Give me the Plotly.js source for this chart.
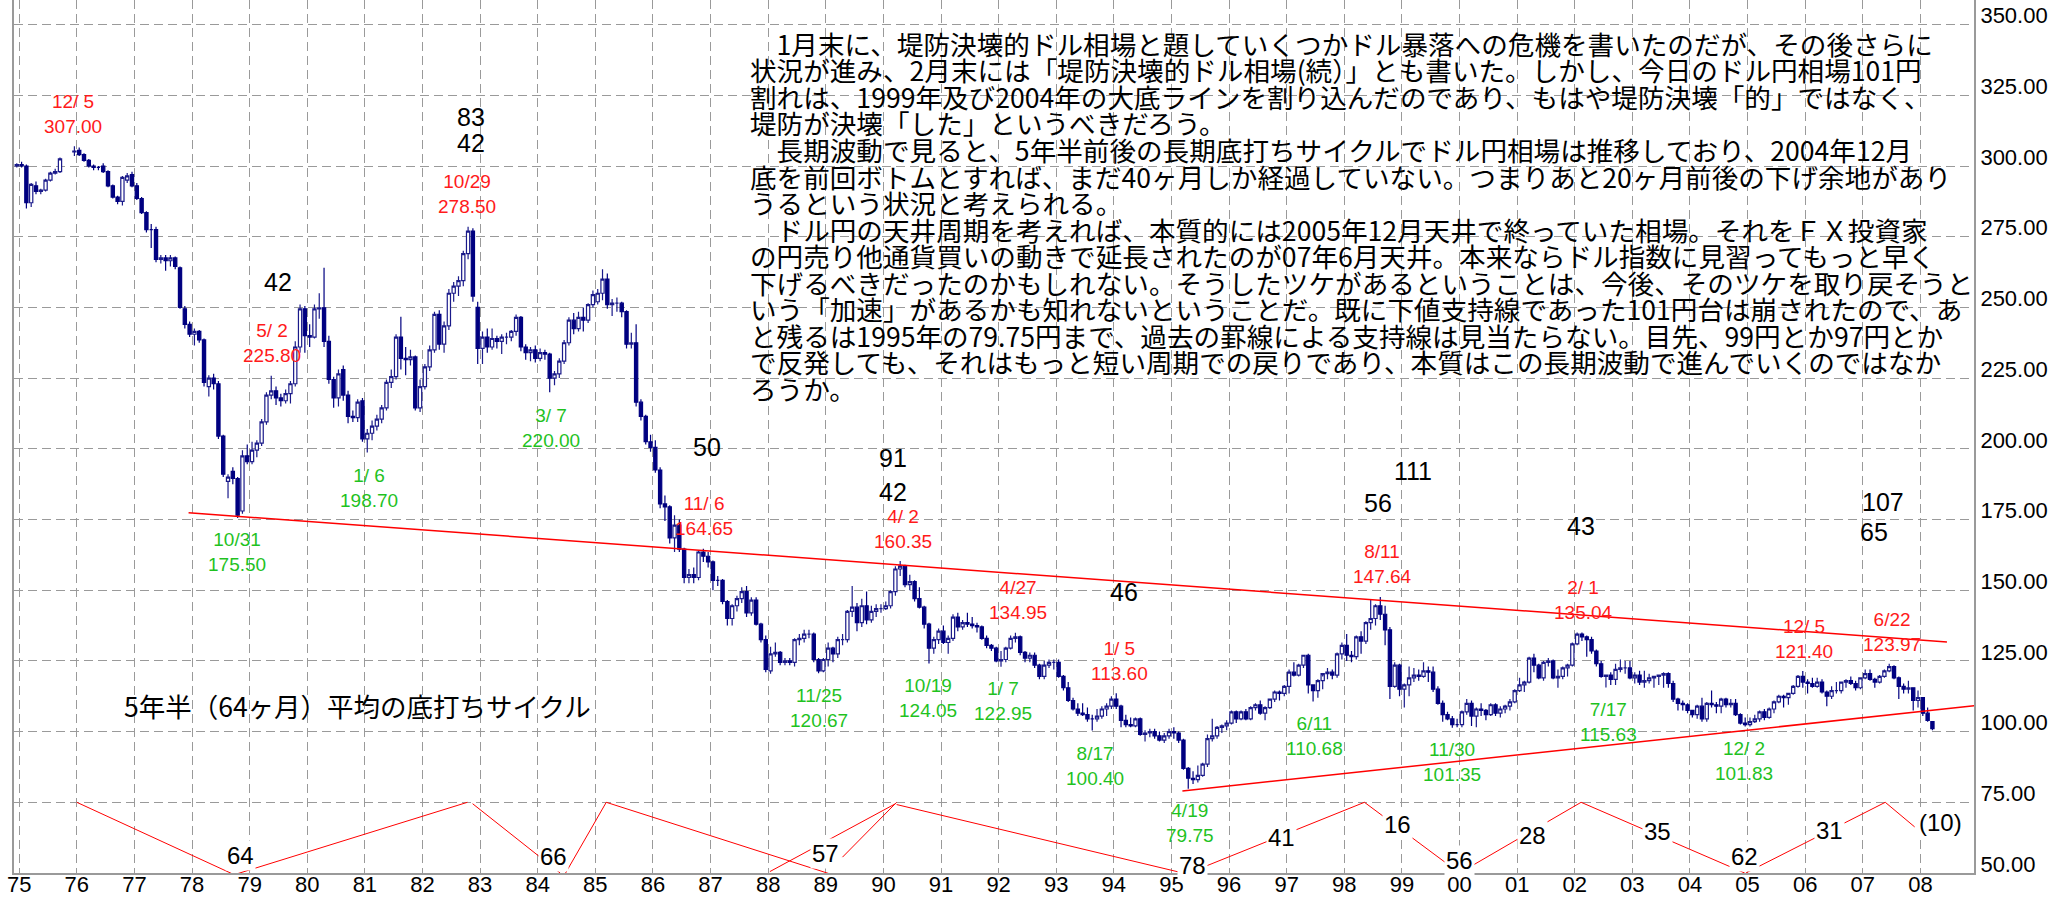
<!DOCTYPE html>
<html><head><meta charset="utf-8">
<script src="https://cdn.plot.ly/plotly-3.0.1.min.js"></script>
<style>html,body{margin:0;padding:0;background:#fff;}#chart{width:2072px;height:900px;}</style>
</head><body><div id="chart"></div>
<script>
// ---------- DATA ----------
// Monthly USD/JPY candles, first candle = Dec 1974
const START_YEAR = 1974, START_MONTH = 12;
const OPEN = [
300,
300.5,300,287,293,291,291.5,295,297.5,298,null,null,305,
305.5,304,302,300,299.5,300,298,293,289,287.5,295,297,
293,288.5,283.5,277.5,277.5,267,267.5,266.5,267.5,264,249.5,244,
240.5,241.5,238.5,222,225,223,204.5,188.5,192,189.5,178,197.5,
195.5,199.5,202,209.5,219,220.5,218,217,219.5,223,236,249.5,
240,239.5,249.5,249.8,238,224.5,218,228,219,211.5,211,217,
203.5,205.5,208,210.5,214.5,223.5,225.5,239.5,232,231.5,232.5,214.5,
222,229,235,247.5,237,243.5,255,257.5,259.5,269,277,250,
235.5,239.5,236,239,238,239.5,239.5,241.5,246.5,236,234,235,
232,234,233.5,225,226.5,231,237.5,245.5,242.5,246.5,245.5,251,
252,255,260,251,251.5,251.5,248.5,237,237.5,216.5,211.5,202.5,
200.5,192.5,180.5,179.5,168.5,173,164.5,154.5,155.5,154.5,163.5,162,
160,153.5,153.5,146,140,144.5,147,149.5,142,146.5,138,132.5,
121.5,127.5,128,124.5,125,124.5,132.5,133,134.5,134.5,125.5,121.5,
125.5,129.5,127.5,132.5,132.5,142.5,144,138.5,144.5,139.5,142.5,143.5,
143.5,144.5,149.5,157.5,158.5,152,153,147,144,138,129.5,132.5,
135.5,131.5,133,140.5,137,138.5,138,137.5,137,133,130.5,129.5,
125,125.5,129.5,133,133.5,128,126,127,123.5,119.5,123.5,124.5,
124.5,119.5,115.5,111,108,106.5,106,104.5,104.5,105.5,108,109,
111.5,109,104,102.5,102,104.5,99,99.5,100,98.5,97,98.5,
100,99.5,97,87,83.5,83,84.5,88.5,97.5,98.5,101.5,102,
103,107,104.5,107,104.5,108.5,109.5,106.5,108.5,111.5,114,113.5,
116,121,120,123.5,127,116.5,114.5,118,120.5,121,120,127.5,
130.5,127,126.5,133.5,132,138.5,140,144.5,141.5,136,116,123.5,
115,116.5,119,120,119.5,121.5,121,115,110,106,104.5,102.5,
102.5,107,110,105.5,108,107.5,106,109.5,106.5,108,109,110.5,
114.5,116.5,117.5,126,123.5,119,124.5,125,119,119.5,122.5,123.5,
131,134.5,133.5,132.5,128.5,124,119.5,120,118.5,122,122.5,122.5,
119,120,117.5,118,119,119.5,120,120.5,117,111.5,110,109.5,
107.5,106,109,104.5,110,109.5,109,111.5,109.5,110,106,103,
102.5,103.5,104.5,107,105,108,110.5,112.5,112,113.5,116,119.5,
117.5,117,116,117.5,114,112.5,114.5,114.5,117.5,118,117,115.5,
119,120.5,118.5,117.5,119.5,121.5,123,119,116,115,115.5,111,
112,106.5,103.5];
const HIGH = [
301,
301.5,300.5,294,294.5,292,295.5,298,299,303,null,null,307,
306.5,304.5,302.5,300.5,300,301,298.5,293.5,289.5,296.5,297.5,298,
294,289,284,279.5,278.5,268.5,268.5,268.5,268,264.5,250.5,245,
242.5,242,239,226,226.5,224,205,191,193.5,190,199.5,201.5,
202.5,203,210.5,220,225.8,222,219.5,221,224,238,251,250.5,
244,251,255,264,240,225.5,228,229.5,220.5,213.5,217.5,218,
207,210,212,215.5,224.5,228,240.5,246.7,236,235,233,224.5,
230,236.5,248.5,249,245,256.5,259,261,270,278.5,278,252,
241.5,242.5,242.5,240,240.5,241,242,247.5,247,237,236,236.5,
235.5,235,234,227.5,232,238.5,246.5,248,248.5,250,251.5,256,
256.5,263.5,262,253,253.5,252,249,241,244,217.5,212,205,
203,193.5,183.5,180,176.5,175,165,157.5,158,164,164.65,163.5,
160.5,155,154,146.5,145,148,151,151.5,147.5,147.5,138.5,134,
130,131.5,128.5,126,126,133,134.5,136,136,135,126,126,
131.5,130,133.5,134.5,143,151.5,145.5,147,149.5,144.5,145,145,
146,150,158.5,160.35,159,155.5,153.5,151,144.5,138.5,133.5,136.5,
137.5,134,141.5,142,139.5,142,140.5,138.5,137.5,134,131,130,
128.5,130,134,134.95,134,128.5,128,128,124,125,125.5,125.5,
125.5,120,117.5,112,110,110,108.5,106,108,109,110,112.5,
113.6,109.5,106,105,105,105,100.5,101,101,100,99.5,101,
101.5,100,97.5,87.5,86,88,89,99,104.5,102,102.5,104,
107.5,107.5,107.5,108,109,110,111,109,111.5,114.5,114.5,116.5,
122,124.5,124,127,127.5,116.5,118.5,119.5,122.5,122,128,131.5,
134.5,128.5,134,135.5,139,146.5,145,147.64,144.5,137,124.5,124,
117,123,122.5,122,124.5,123,123,116,111,107,105.5,104.5,
107.5,111.5,111,108.5,110,108,110,110,109,109.5,111.5,115,
119,118,126.5,127.5,124,125,126,125.5,122,123,124,131.5,
135,135.04,134,133.5,129,125,120,121,124,125.5,125,125,
121,121.5,121.5,120.5,119.5,120,121,121,118,112,111,110,
107.5,109.5,112,110.5,114.5,110.5,112,112,111.5,111.5,106.5,105,
105,106,107.5,108,108.5,111,113,113,113.5,116.5,120,121.4,
118.5,119,119,118.5,114.5,116,117.5,117.5,118.5,119.5,118,119,
122,122,119,120,122,123.97,123.5,119.5,117,118,115.5,114.5,
112,108.5,103.5];
const LOW = [
299.5,
299.5,285,285.5,290,290,291,294.5,297,297.5,null,null,303.5,
303.5,301.5,299.5,298.5,298.5,297.5,292.5,288.5,286.5,286,294,292.5,
288,283,276.5,271,266,265.5,263,264.5,263.5,249.5,242.5,239.5,
236.5,237.5,222,218.5,221,203.5,190,182.5,187.5,175.5,177,194.5,
194.5,197,201,208.5,217.5,215.5,215,216,216,222,234,234,
236,239,246,236,223,214.5,215,217,209,209.5,209.5,202.5,
198.7,203,206.5,209,213.5,221.5,224.5,228,226,229.5,213.5,213,
221,227.5,234,235,234,242,252,254,257.5,267,252,230,
230,234,235,235.5,233.5,237,238,240,234.5,231.5,231,230.5,
231,231.5,220,222.5,225,230,236.5,240.5,241.5,241.5,244.5,250,
251,252.5,249.5,247,248.5,246.5,235.5,235.5,215,210,201.5,199,
191.5,179,174.5,166.5,163.5,163.5,152.5,152.5,152.5,153.5,160,158,
150,151.5,145,137.5,137.5,142.5,145.5,140.5,141,137.5,131.5,121,
120.5,126.5,123.5,123.5,123.5,123,130.5,131.5,133,124.5,120.67,121,
123,124.5,126,130.5,131.5,140.5,135.5,137,138,138.5,140.5,142,
143,143.5,148,155,151,150,146,143.5,136.5,124.05,127.5,131,
131,127.5,132,135.5,136,137,136.5,135,132.5,129.5,128.5,124.5,
122.95,124.5,129,131.5,127,124.5,124.5,122.5,118.5,118.5,122.5,122,
119,114.5,110.5,107.5,105.5,105.5,103.5,100.4,103.5,104.5,105.5,108,
108,101.5,101.5,101.5,101.5,98.5,96.5,98,97.5,96.5,96,97.5,
97.5,96,86.5,79.75,81.5,82,84,87.5,96.5,97.5,99.5,100.5,
102.5,103,104,104,104,107.5,106,104,108,110.5,111,112.5,
113.5,119.5,119.5,122.5,113.5,110.68,112,115,118.5,118.5,119,125.5,
125,124.5,125.5,127.5,131,136,137.5,139.5,130.5,111.5,115.5,112.5,
108.5,112.5,117.5,118,119,117.5,114,109.5,103.5,104,101.35,101.5,
101.5,106,102,101.5,105.5,104,105.5,105.5,105,106.5,107.5,110,
114,114,117,121,118.5,118,123,118.5,115.5,118.5,119.5,123,
130.5,132,126.5,127.5,123,119,115.63,116.5,116.5,121,120.5,118.5,
117,116.5,115.5,117,115.5,116.5,115.5,115.5,110.5,107.5,107.5,106.5,
105,104.5,103.5,103.5,108.5,106.5,106.5,108.5,108.5,105.5,102.5,101.83,
101.8,103,103.5,104,104.5,106.5,110,108.5,109.5,113,115.5,115.5,
113.5,115.5,115.5,113.5,109,111.5,113.5,113.5,115.5,116.5,114.5,115,
118.5,118,115.5,117,119,121,118.5,111.5,113.5,113.5,107.5,108.5,
105.5,103.5,100.5];
const CLOSE = [
300.5,
300,287,293.5,291,291.5,295,297.5,298,302.5,null,null,305.3,
304,302,300,299.5,299.5,298,293,289,287.5,296,296.5,293,
288.5,283.5,277.5,277.5,267,267.5,266.5,267.5,264.5,250,244,240.5,
241.5,238.5,223.5,225,223,204.5,191,190,189.5,176.5,197.5,195.5,
199.5,202,209.5,219,220.5,218,217,219.5,223,236,249.5,240,
239.5,249.5,249.8,238,224.5,218,226.5,219,211.5,211,216.5,203.5,
205.5,208,210.5,214.5,223.5,225.5,239.5,232,231.5,232.5,214.5,222,
229,235,247.5,237,243.5,255,257.5,259.5,269,277,254,235.5,
239.5,236,239,238,239.5,239.5,241.5,246.5,236,234,235,232,
234,233.5,225,226.5,231,237.5,245.5,242.5,246.5,245.5,251,254.5,
255,260,251,251.5,251.5,248.5,237,237.5,216.5,211.5,202.5,200.5,
192.5,180.5,179.5,168.5,173,164.5,154.5,155.5,154.5,163.5,162,160,
153.5,153.5,146,140,144.5,147,149.5,142,146.5,138,132.5,122,
127.5,128,124.5,125,124.5,132.5,133,134.5,134.5,125.5,121.5,125.5,
129.5,127.5,132.5,132.5,142.5,144,138.5,144.5,139.5,142.5,143.5,143.5,
144.5,149.5,157.5,158.5,152,153,147,144,138,129.5,132.5,135.5,
131.5,133,140.5,137,138.5,138,137.5,137,133,130.5,129.5,125,
125.5,129.5,133,133.5,128,126,127,123.5,119.5,123.5,124.5,124.5,
119.5,115.5,111,108,106.5,106,104.5,104.5,105.5,108,109,111.5,
109,104,102.5,102,104.5,99,99.5,100,98.5,97,98.5,100,
99.5,97,87,83.5,83,84.5,88.5,97.5,98.5,101.5,102,103,
107,104.5,107,104.5,108.5,109.5,106.5,108.5,111.5,114,113.5,116,
121,120,123.5,127,116.5,114.5,118,120.5,121,120,127.5,130.5,
127,126.5,133.5,132,138.5,140,144.5,141.5,136,116,123.5,115,
116.5,119,120,119.5,121.5,121,115,110,106,104.5,102.5,102.5,
107,110,105.5,108,107.5,106,109.5,106.5,108,109,110.5,114.5,
116.5,117.5,126,123.5,119,124.5,125,119,119.5,122.5,123.5,131,
134.5,133.5,132.5,128.5,124,119.5,120,118.5,122,122.5,122.5,119,
120,117.5,118,119,119.5,120,120.5,117,111.5,110,109.5,107.5,
106,109,104.5,110,109.5,109,111.5,109.5,110,106,103,102.5,
103.5,104.5,107,105,108,110.5,112.5,112,113.5,116,119.5,117.5,
117,116,117.5,114,112.5,114.5,114.5,117.5,118,117,115.5,119,
120.5,118.5,117.5,119.5,121.5,123,119,116,115,115.5,111,112,
106.5,104,101];

// axis ticks
const YEARS = [];
for (let y = 1975; y <= 2008; y++) YEARS.push(y);
const YEAR_LABELS = YEARS.map(y => String(y % 100).padStart(2, '0'));
const PRICE_TICKS = [50,75,100,125,150,175,200,225,250,275,300,325,350];

// trend lines (decimal year, yen)
const TREND_TOP_X = [1977.94, 2008.46], TREND_TOP_Y = [177.4, 131.7];
const TREND_BOTTOM_X = [1995.19, 2009.28], TREND_BOTTOM_Y = [79.0, 109.9];

// 64-month bottoming-cycle zigzag (segments separated by null)
const CYCLE_X = [1976.0,1978.70,null, 1978.78,1982.78,null, 1982.87,1984.39,null, 1984.47,1985.19,null,
  1985.19,1989.10,null, 1988.03,1990.21,null, 1989.29,1990.23,null, 1990.23,1995.20,null,
  1995.30,1998.35,null, 1998.35,2000.0,null, 2000.0,2002.11,null, 2002.11,2004.95,null,
  2004.97,2007.39,null, 2007.39,2007.90];
const CYCLE_Y = [75,49.7,null, 49.7,75,null, 74.5,50,null, 49.5,75,null,
  75,49.5,null, 50.5,74.5,null, 55.6,75,null, 74.2,50,null,
  50,75,null, 75,50,null, 50,75,null, 75,50,null,
  50,75,null, 75,66.3];

// peak / trough labels
const HIGH_LABELS = ['12/ 5<br>307.00','10/29<br>278.50','5/ 2<br>225.80','11/ 6<br>164.65','4/ 2<br>160.35',
  '4/27<br>134.95','1/ 5<br>113.60','8/11<br>147.64','2/ 1<br>135.04','12/ 5<br>121.40','6/22<br>123.97'];
const LOW_LABELS = ['10/31<br>175.50','1/ 6<br>198.70','3/ 7<br>220.00','11/25<br>120.67','10/19<br>124.05',
  '1/ 7<br>122.95','8/17<br>100.40','4/19<br>79.75','6/11<br>110.68','11/30<br>101.35','7/17<br>115.63','12/ 2<br>101.83'];
const TOP_COUNTS = ['83','42','42','50','91','42','46','111','56','43','107','65'];
const BOTTOM_COUNTS = ['64','66','57','78','41','16','56','28','35','62','31','(10)'];
const CYCLE_TITLE = '5年半（64ヶ月）平均の底打ちサイクル';
const COMMENT_LINES = [
 '　1月末に、堤防決壊的ドル相場と題していくつかドル暴落への危機を書いたのだが、その後さらに',
 '状況が進み、2月末には「堤防決壊的ドル相場(続）」とも書いた。しかし、今日のドル円相場101円',
 '割れは、1999年及び2004年の大底ラインを割り込んだのであり、もはや堤防決壊「的」ではなく、',
 '堤防が決壊「した」というべきだろう。',
 '　長期波動で見ると、5年半前後の長期底打ちサイクルでドル円相場は推移しており、2004年12月',
 '底を前回ボトムとすれば、まだ40ヶ月しか経過していない。つまりあと20ヶ月前後の下げ余地があり',
 'うるという状況と考えられる。',
 '　ドル円の天井周期を考えれば、本質的には2005年12月天井で終っていた相場。それをＦＸ投資家',
 'の円売り他通貨買いの動きで延長されたのが07年6月天井。本来ならドル指数に見習ってもっと早く',
 '下げるべきだったのかもしれない。そうしたツケがあるということは、今後、そのツケを取り戻そうと',
 'いう「加速」があるかも知れないということだ。既に下値支持線であった101円台は崩されたので、あ',
 'と残るは1995年の79.75円まで、過去の罫線による支持線は見当たらない。目先、99円とか97円とか',
 'で反発しても、それはもっと短い周期での戻りであり、本質はこの長期波動で進んでいくのではなか',
 'ろうか。'];

// ---------- LAYOUT POSITIONS ----------
const HIGH_POS = [[1975.94,318.3],[1982.78,290.0],[1979.38,237.3],[1986.88,176.2],[1990.34,171.7],
  [1992.34,146.7],[1994.09,125.0],[1998.67,159.4],[2002.15,146.7],[2005.98,132.9],[2007.5,135.3]];
const LOW_POS = [[1978.78,163.6],[1981.07,186.3],[1984.23,207.5],[1988.89,108.3],[1990.78,111.8],
  [1992.07,110.8],[1993.67,88.0],[1995.33,67.6],[1997.49,98.3],[1999.87,89.2],[2002.58,103.4],[2004.94,89.6]];
const TOP_POS = [[1982.84,317.5],[1982.84,308.1],[1979.5,259.1],[1986.93,200.7],[1990.17,196.9],[1990.17,184.8],
  [1994.18,149.3],[1999.2,192.3],[1998.58,181.0],[2002.1,172.6],[2007.35,181.1],[2007.19,170.7]];
const BOTTOM_POS = [[1978.84,56.3],[1984.27,55.9],[1989.0,56.9],[1995.36,52.7],[1996.91,62.7],[1998.93,67.3],
  [2000.0,54.5],[2001.27,63.4],[2003.43,64.5],[2004.95,55.7],[2006.42,65.1],[2008.35,68.0]];

const X = OPEN.map((_, i) => START_YEAR + (START_MONTH - 1 + i + 0.5) / 12);

const NUM_FONT = "'Liberation Sans', Arial, sans-serif";
const JP_FONT = "'Noto Sans CJK JP', sans-serif";
const RED = '#ff1a1a', GREEN = '#1fc21f';

const traces = [
  {type: 'candlestick', x: X, open: OPEN, high: HIGH, low: LOW, close: CLOSE,
   increasing: {line: {color: '#1a1a8a', width: 1.2}, fillcolor: '#ffffff'},
   decreasing: {line: {color: '#000080', width: 1.2}, fillcolor: '#000080'},
   whiskerwidth: 0, hoverinfo: 'skip', showlegend: false},
  {type: 'scatter', mode: 'lines', x: TREND_TOP_X, y: TREND_TOP_Y, line: {color: '#ff0000', width: 1.5}, hoverinfo: 'skip', showlegend: false},
  {type: 'scatter', mode: 'lines', x: TREND_BOTTOM_X, y: TREND_BOTTOM_Y, line: {color: '#ff0000', width: 1.5}, hoverinfo: 'skip', showlegend: false},
  {type: 'scatter', mode: 'lines', x: CYCLE_X, y: CYCLE_Y, connectgaps: false, line: {color: '#ff0000', width: 1}, hoverinfo: 'skip', showlegend: false}
];

const annotations = [];
HIGH_LABELS.forEach((t, i) => annotations.push({x: HIGH_POS[i][0], y: HIGH_POS[i][1], xref: 'x', yref: 'y', text: t, showarrow: false,
  font: {family: NUM_FONT, size: 19, color: RED}, align: 'center'}));
LOW_LABELS.forEach((t, i) => annotations.push({x: LOW_POS[i][0], y: LOW_POS[i][1], xref: 'x', yref: 'y', text: t, showarrow: false,
  font: {family: NUM_FONT, size: 19, color: GREEN}, align: 'center'}));
TOP_COUNTS.forEach((t, i) => annotations.push({x: TOP_POS[i][0], y: TOP_POS[i][1], xref: 'x', yref: 'y', text: t, showarrow: false,
  font: {family: NUM_FONT, size: 25, color: '#000'}}));
BOTTOM_COUNTS.forEach((t, i) => annotations.push({x: BOTTOM_POS[i][0], y: BOTTOM_POS[i][1], xref: 'x', yref: 'y', text: t, showarrow: false,
  font: {family: NUM_FONT, size: 24, color: '#000'}, bgcolor: '#ffffff', borderpad: 1}));
annotations.push({x: 1980.88, y: 109.3, xref: 'x', yref: 'y', text: CYCLE_TITLE, showarrow: false,
  font: {family: JP_FONT, size: 26.5, color: '#000'}});
const PLOT_L = 14, PLOT_W = 1960, PLOT_H = 873;
COMMENT_LINES.forEach((t, k) => annotations.push({x: (748 - PLOT_L) / PLOT_W, y: (PLOT_H - (43.3 + k * 26.55)) / PLOT_H,
  xref: 'paper', yref: 'paper', xanchor: 'left', yanchor: 'middle', text: t, showarrow: false,
  font: {family: JP_FONT, size: 26.6, color: '#000'}}));

const layout = {
  width: 2072, height: 900,
  margin: {l: 14, r: 98, t: 0, b: 27, pad: 0, autoexpand: false},
  paper_bgcolor: '#ffffff', plot_bgcolor: '#ffffff',
  showlegend: false, boxgap: 0.04,
  xaxis: {type: 'linear', range: [1974.91, 2008.93], tickmode: 'array', tickvals: YEARS, ticktext: YEAR_LABELS,
    showgrid: true, gridcolor: '#9a9a9a', griddash: '9px,5px', gridwidth: 1, zeroline: false,
    showline: true, linecolor: '#9a9a9a', linewidth: 2, ticks: '', ticklabelstandoff: -9, rangeslider: {visible: false},
    tickfont: {family: NUM_FONT, size: 22, color: '#000'}, fixedrange: true},
  yaxis: {side: 'right', range: [50, 358.7], tickmode: 'array', tickvals: PRICE_TICKS, tickformat: '.2f',
    showgrid: true, gridcolor: '#9a9a9a', griddash: '9px,5px', gridwidth: 1, zeroline: false,
    showline: true, mirror: true, linecolor: '#9a9a9a', linewidth: 2, ticks: '', ticklabelshift: -9,
    tickfont: {family: NUM_FONT, size: 22, color: '#000'}, fixedrange: true},
  annotations: annotations
};

Plotly.newPlot('chart', traces, layout, {staticPlot: true, displayModeBar: false});
</script></body></html>
